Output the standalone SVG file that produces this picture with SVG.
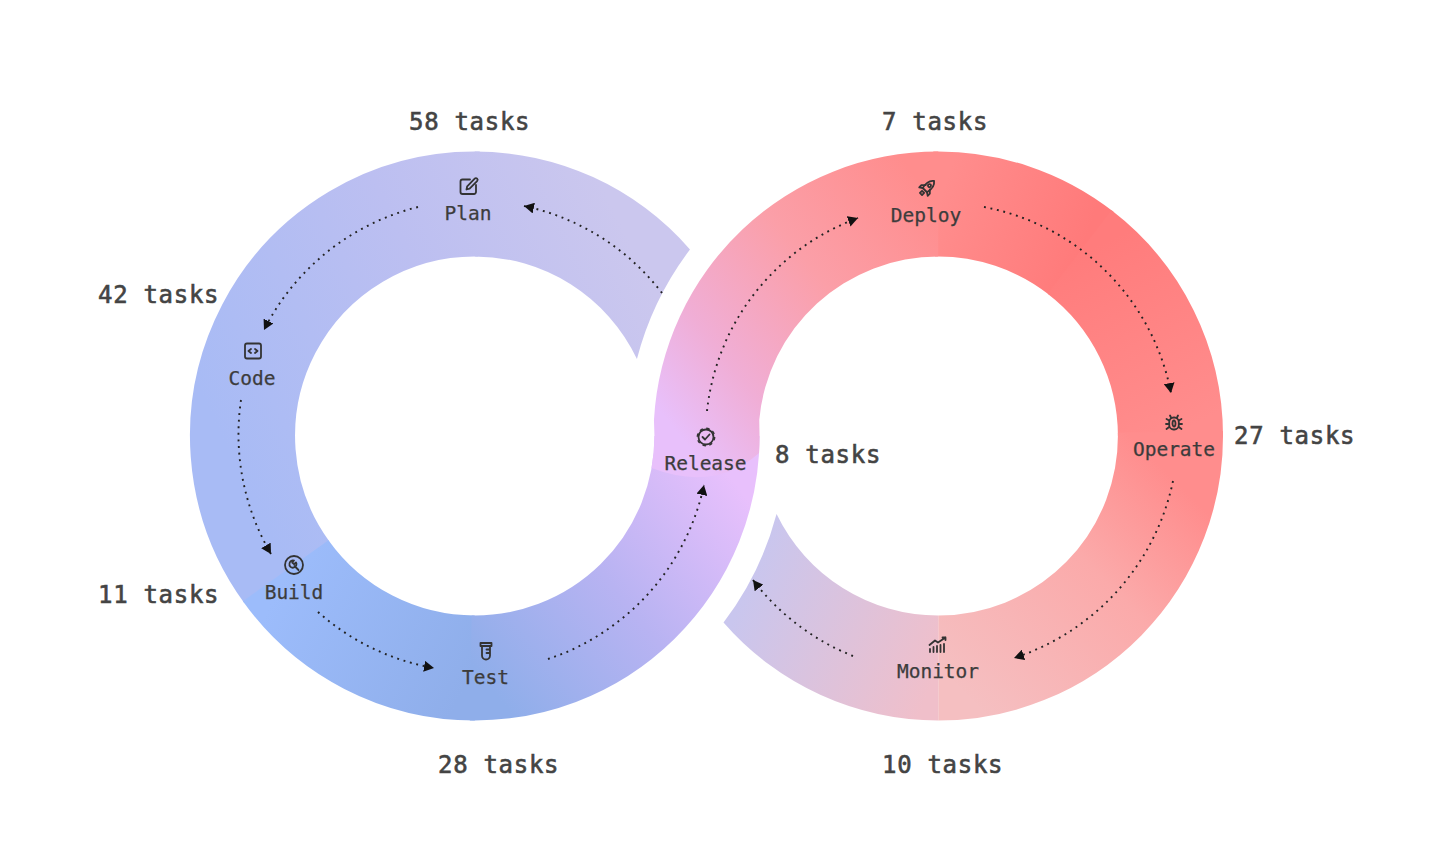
<svg xmlns="http://www.w3.org/2000/svg" width="1440" height="844" viewBox="0 0 1440 844">
<style>
.b{fill:none;stroke-width:105}
.c{fill:none;stroke:#222;stroke-width:1.9;stroke-dasharray:1.9 4.7;marker-end:url(#ah)}
.l{font-family:"DejaVu Sans Mono","Liberation Mono",monospace;font-size:19.5px;fill:#3c3c3c;stroke:#3c3c3c;stroke-width:.25;text-anchor:middle}
.n{font-family:"DejaVu Sans Mono","Liberation Mono",monospace;font-size:24px;letter-spacing:.7px;fill:#444;stroke:#444;stroke-width:.6}
.i{fill:none;stroke:#333;stroke-width:1.8;stroke-linecap:round;stroke-linejoin:round}
</style>
<defs>
<marker id="ah" markerUnits="userSpaceOnUse" markerWidth="11" markerHeight="11" refX="10" refY="5.5" orient="auto"><path d="M0,0L10,5.500L0,11Z" fill="#111"/></marker>
<linearGradient id="g1" gradientUnits="userSpaceOnUse" x1="650" y1="284" x2="243" y2="480"><stop offset="0" stop-color="#cbc7ee"/><stop offset=".45" stop-color="#bcbff1"/><stop offset="1" stop-color="#a8bbf5"/></linearGradient>
<linearGradient id="g5" gradientUnits="userSpaceOnUse" x1="287" y1="572" x2="475" y2="668"><stop offset="0" stop-color="#9cbcfb"/><stop offset="1" stop-color="#8faeea"/></linearGradient>
<linearGradient id="g6" gradientUnits="userSpaceOnUse" x1="475" y1="668" x2="725" y2="470"><stop offset="0" stop-color="#8faeea"/><stop offset=".5" stop-color="#b8b3f2"/><stop offset="1" stop-color="#e8c0fc"/></linearGradient>
<linearGradient id="r0" gradientUnits="userSpaceOnUse" x1="680" y1="436" x2="950.600" y2="220"><stop offset="0" stop-color="#e8c0fb"/><stop offset=".24" stop-color="#f0aed6"/><stop offset=".6" stop-color="#fb9fa8"/><stop offset="1" stop-color="#ff8d8d"/></linearGradient>
<linearGradient id="r2" gradientUnits="userSpaceOnUse" x1="938" y1="204" x2="1081" y2="253"><stop offset="0" stop-color="#ff8d8d"/><stop offset="1" stop-color="#ff7a7a"/></linearGradient>
<linearGradient id="r3" gradientUnits="userSpaceOnUse" x1="1081" y1="253" x2="1170" y2="436"><stop offset="0" stop-color="#ff7c7c"/><stop offset="1" stop-color="#ff8d8d"/></linearGradient>
<linearGradient id="r4" gradientUnits="userSpaceOnUse" x1="1150" y1="456" x2="938" y2="668"><stop offset="0" stop-color="#ff8d8d"/><stop offset=".4" stop-color="#fbaaaa"/><stop offset="1" stop-color="#f5bfc1"/></linearGradient>
<linearGradient id="r6" gradientUnits="userSpaceOnUse" x1="938" y1="668" x2="745" y2="590"><stop offset="0" stop-color="#f0bfca"/><stop offset="1" stop-color="#c9c6ee"/></linearGradient>
</defs>
<rect width="1440" height="844" fill="#fff"/>
<g id="bands" transform="translate(-0.7065,0) scale(1.001,1)">
<path d="M475,151.500A284.500,284.500 0 0 1 690,249.500A310.700,310.700 0 0 0 637,359A179.500,179.500 0 0 0 475,256.500Z" fill="url(#g1)"/>
<path class="b" stroke="url(#g1)" d="M479.050,204.040A232,232 0 0 0 287.300,572.400"/>
<path class="b" stroke="url(#g5)" d="M286.100,570.700A232,232 0 0 0 475,668"/>
<path class="b" stroke="url(#g6)" d="M470.950,667.960A232,232 0 0 0 707,436"/>
<path class="b" stroke="url(#r2)" d="M933.950,204.040A232,232 0 0 1 1080.800,253.200"/>
<path class="b" stroke="url(#r3)" d="M1079.200,252A232,232 0 0 1 1170,436"/>
<path class="b" stroke="url(#r4)" d="M1169.960,431.950A232,232 0 0 1 938,668"/>
<path d="M651.600,468A179.500,179.500 0 0 0 654.500,436L654,420A284.500,284.500 0 0 1 938,151.500L938,256.500A179.500,179.500 0 0 0 759.200,420L759.500,436A284.500,284.500 0 0 1 759,453Q715,492 651.600,468Z" fill="url(#r0)"/>
<path d="M938,720.500A284.500,284.500 0 0 1 723.500,622.500A310.700,310.700 0 0 0 776.500,514A179.500,179.500 0 0 0 938,615.500Z" fill="url(#r6)"/>
</g>
<g id="connectors">
<path class="c" d="M662,293A235,235 0 0 0 524,206"/>
<path class="c" d="M418,207A236,236 0 0 0 264,330"/>
<path class="c" d="M241,400A236,236 0 0 0 271,554"/>
<path class="c" d="M318,612A236,236 0 0 0 434,668"/>
<path class="c" d="M548,659A235,235 0 0 0 704,485"/>
<path class="c" d="M707,411A232,232 0 0 1 858,218"/>
<path class="c" d="M984,207A235,235 0 0 1 1171,393"/>
<path class="c" d="M1173,481A237,237 0 0 1 1014,658"/>
<path class="c" d="M853,656A235,235 0 0 1 753,580"/>
</g>
<g id="plan">
<g class="i" transform="translate(469,186)"><path d="M1,-6.500H-6.500a2,2 0 0 0 -2,2V6a2,2 0 0 0 2,2H5a2,2 0 0 0 2,-2V-1"/><path d="M-2.500,3.500L-1.800,0.300L5.700,-7.300a1.600,1.600 0 0 1 2.400,2.400L0.600,2.700Z"/></g>
<text class="l" x="468" y="219.500">Plan</text><text class="n" x="409" y="130">58 tasks</text></g>
<g id="code">
<g class="i" transform="translate(253,351)"><rect x="-8" y="-7.500" width="16" height="15" rx="2"/><path d="M-2,-2L-4.500,0L-2,2M2,-2L4.500,0L2,2"/></g>
<text class="l" x="252" y="384.500">Code</text><text class="n" x="98" y="303">42 tasks</text></g>
<g id="build">
<g class="i" transform="translate(294,565)"><circle r="9"/><path d="M4.500,5L0.500,1M-4.500,-1.500A3.400,3.400 0 0 0 0,2.500A3.400,3.400 0 0 0 2,-2.500L0,-0.800L-1.800,-2.500L0,-4.500A3.400,3.400 0 0 0 -4.500,-1.500"/></g>
<text class="l" x="294" y="598.500">Build</text><text class="n" x="98" y="603">11 tasks</text></g>
<g id="test">
<g class="i" transform="translate(486,651)"><path d="M-5.500,-8H5.500V-5H-5.500Z"/><path d="M-4,-5V4.500a4,4 0 0 0 8,0V-5M0.500,-1.500H4M0.500,2H4"/></g>
<text class="l" x="485.500" y="683.500">Test</text><text class="n" x="438" y="773">28 tasks</text></g>
<g id="release">
<g class="i" transform="translate(706,437)"><circle r="7.500"/><circle r="8.700" stroke-width="1.400" stroke-linecap="butt" stroke-dasharray="3.400 3.430"/><path d="M-3.500,0L-1,2.500L3.500,-2.500"/></g>
<text class="l" x="705.500" y="470">Release</text><text class="n" x="775" y="463">8 tasks</text></g>
<g id="deploy">
<g class="i" transform="translate(927,188) rotate(45)"><path d="M0,-10C4,-7 4,-1 3,3H-3C-4,-1 -4,-7 0,-10Z"/><circle cy="-3.500" r="1.500"/><path d="M-3,-1L-6,2V5L-3,3M3,-1L6,2V5L3,3M-1.500,5.500H1.500V8.500H-1.500Z"/></g>
<text class="l" x="926" y="221.500">Deploy</text><text class="n" x="882" y="130">7 tasks</text></g>
<g id="operate">
<g class="i" transform="translate(1174,423)"><rect x="-4.800" y="-5.500" width="9.600" height="12" rx="4.500"/><ellipse cx="0" cy=".5" rx="1.500" ry="3"/><path d="M-3,-5.500L-4,-7.500M3,-5.500L4,-7.500M-4.800,-2.500L-7.500,-4M4.800,-2.500L7.500,-4M-4.800,1H-8M4.800,1H8M-4.800,4L-7.500,6M4.800,4L7.500,6"/></g>
<text class="l" x="1174" y="455.500">Operate</text><text class="n" x="1234" y="444">27 tasks</text></g>
<g id="monitor">
<g class="i" transform="translate(938,645)"><path d="M-8,7V4M-4.500,7V2M-1,7V1M2.500,7V0M6,7V-1M-8.500,0L-3,-4.500L0,-2.500L7.500,-7.500M4.500,-7.500H7.500V-5"/></g>
<text class="l" x="938" y="677.500">Monitor</text><text class="n" x="882" y="773">10 tasks</text></g>
</svg>
